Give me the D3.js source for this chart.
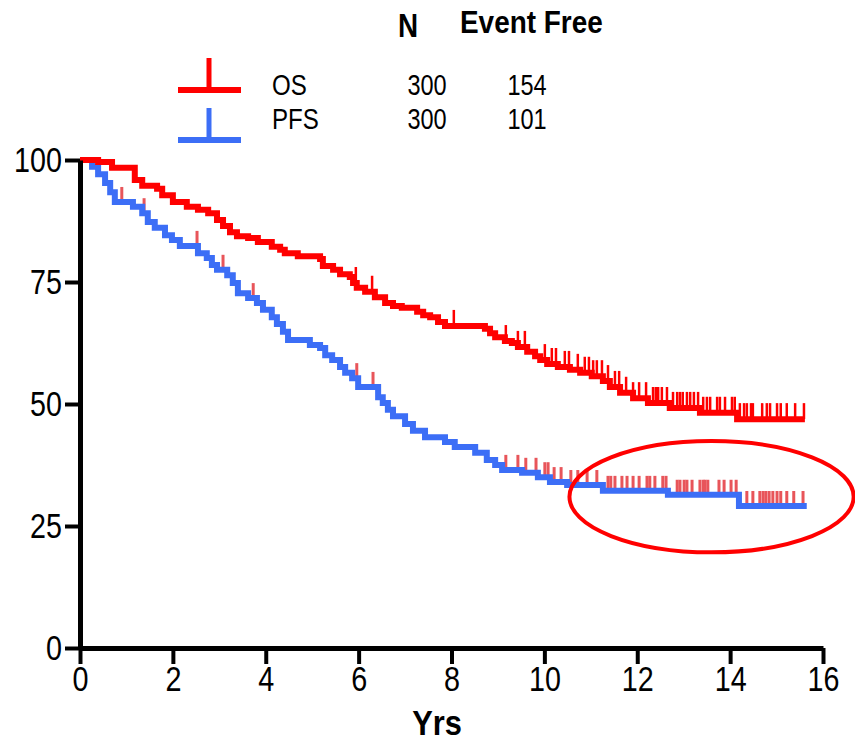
<!DOCTYPE html>
<html>
<head>
<meta charset="utf-8">
<script src="https://cdn.jsdelivr.net/npm/d3@7"></script>
<style>
  html, body { margin: 0; padding: 0; background: #fff; }
  svg { display: block; }
  text { font-family: "Liberation Sans", Arial, sans-serif; }
</style>
</head>
<body>
<svg id="chart" width="855" height="742"></svg>
<script>
// ---------- data ----------
const xTicks = [0, 2, 4, 6, 8, 10, 12, 14, 16];
const yTicks = [0, 25, 50, 75, 100];
const xLabel = "Yrs";

const legendHeader = ["N", "Event Free"];
const seriesNames = ["OS", "PFS"];
const seriesN = [300, 300];
const seriesEventFree = [154, 101];

// OS step function (time in years, survival %)
const osTimes = [0, 0.39, 0.69, 1.18, 1.34, 1.66, 1.77, 2.0, 2.30, 2.54, 2.76, 2.95, 3.08, 3.23, 3.38, 3.62, 3.83, 4.13, 4.31, 4.41, 4.69, 5.17, 5.23, 5.45, 5.60, 5.81, 5.88, 5.96, 6.14, 6.35, 6.57, 6.74, 6.93, 7.26, 7.39, 7.54, 7.71, 7.86, 8.72, 8.83, 8.94, 9.15, 9.30, 9.43, 9.63, 9.80, 9.91, 10.06, 10.29, 10.55, 10.77, 11.02, 11.26, 11.41, 11.63, 11.91, 12.23, 12.70, 13.35, 14.15, 15.61];
const osSurv  = [100, 99.6, 98.4, 95.9, 94.7, 94.1, 92.8, 91.4, 90.4, 89.8, 89.1, 87.7, 86.5, 85.2, 84.4, 84.0, 83.2, 82.2, 81.6, 80.9, 80.3, 79.7, 78.3, 77.5, 76.6, 76.0, 74.8, 73.8, 73.0, 71.9, 70.7, 70.1, 69.7, 68.9, 68.2, 67.8, 66.8, 66.0, 65.4, 64.5, 63.7, 62.9, 62.5, 61.7, 60.7, 59.8, 59.0, 58.2, 57.6, 57.0, 56.4, 55.7, 54.7, 53.5, 52.3, 51.2, 50.2, 49.2, 48.2, 46.9, 46.9];
const osCensor = [5.94, 6.29, 8.05, 9.17, 9.43, 9.58, 10.01, 10.16, 10.25, 10.44, 10.53, 10.72, 10.87, 10.96, 11.05, 11.13, 11.24, 11.37, 11.52, 11.61, 11.76, 11.91, 12.04, 12.19, 12.34, 12.40, 12.45, 12.53, 12.64, 12.77, 12.86, 12.92, 12.98, 13.07, 13.14, 13.22, 13.31, 13.42, 13.50, 13.57, 13.72, 13.78, 13.89, 14.04, 14.10, 14.21, 14.30, 14.36, 14.45, 14.49, 14.69, 14.79, 14.86, 15.01, 15.09, 15.22, 15.40, 15.59];

// PFS step function
const pfsTimes = [0, 0.26, 0.39, 0.54, 0.65, 0.75, 1.14, 1.34, 1.46, 1.61, 1.83, 1.98, 2.15, 2.54, 2.73, 2.84, 2.95, 3.17, 3.29, 3.40, 3.62, 3.81, 3.94, 4.13, 4.24, 4.37, 4.48, 4.95, 5.17, 5.28, 5.43, 5.60, 5.71, 5.86, 5.99, 6.42, 6.52, 6.63, 6.74, 7.00, 7.17, 7.43, 7.86, 8.07, 8.51, 8.76, 8.94, 9.09, 9.52, 9.86, 10.12, 10.49, 11.26, 12.66, 14.19, 15.65];
const pfsSurv  = [100, 98.6, 97.1, 95.3, 93.4, 91.4, 90.4, 89.1, 87.3, 86.1, 84.6, 83.6, 82.4, 80.9, 79.9, 78.5, 77.5, 76.4, 74.8, 72.7, 71.7, 70.7, 69.3, 67.8, 66.4, 64.8, 63.1, 62.1, 61.5, 60.0, 59.0, 57.6, 56.4, 55.3, 53.5, 51.4, 50.2, 48.8, 47.5, 45.9, 44.5, 43.2, 42.2, 41.2, 40.0, 38.5, 37.5, 36.5, 35.9, 35.0, 34.0, 33.4, 32.2, 31.4, 29.1, 29.1];
const pfsCensor = [0.90, 1.38, 2.52, 3.08, 3.73, 5.96, 6.31, 9.17, 9.43, 9.60, 9.82, 10.01, 10.08, 10.21, 10.36, 10.57, 10.72, 10.92, 11.13, 11.37, 11.43, 11.52, 11.67, 11.78, 11.91, 12.04, 12.21, 12.27, 12.38, 12.55, 12.62, 12.86, 12.92, 13.01, 13.07, 13.18, 13.35, 13.42, 13.46, 13.52, 13.76, 13.87, 14.02, 14.13, 14.36, 14.49, 14.64, 14.71, 14.77, 14.84, 14.92, 15.01, 15.09, 15.22, 15.37, 15.57];

// highlight ellipse (data coordinates: centre time, centre %, half-width years, half-height %)
const highlight = { t: 13.6, s: 31.0, rt: 3.06, rs: 11.4 };

// ---------- drawing ----------
const svg = d3.select("#chart");
const x = d3.scaleLinear().domain([0, 16]).range([80, 823]);
const y = d3.scaleLinear().domain([0, 100]).range([648, 160]);

const RED = "#ff0000";
const BLUE = "#3c6ef6";
const PINK = "#e8555a";

// horizontally condense text to mimic the narrow typeface
function squeeze(sel, f) {
  sel.each(function () {
    const w = this.getComputedTextLength();
    this.setAttribute("textLength", (w * f).toFixed(1));
    this.setAttribute("lengthAdjust", "spacingAndGlyphs");
  });
}

function stepAt(times, surv, t) {
  let v = surv[0];
  for (let i = 0; i < times.length; i++) { if (times[i] <= t) v = surv[i]; else break; }
  return v;
}

const line = d3.line().x(d => x(d[0])).y(d => y(d[1])).curve(d3.curveStepAfter);

const pfsData = pfsTimes.map((t, i) => [t, pfsSurv[i]]);
const osData = osTimes.map((t, i) => [t, osSurv[i]]);

svg.append("g").selectAll("line").data(pfsCensor).join("line")
  .attr("x1", d => x(d)).attr("x2", d => x(d))
  .attr("y1", d => y(stepAt(pfsTimes, pfsSurv, d)))
  .attr("y2", d => y(stepAt(pfsTimes, pfsSurv, d)) - 15)
  .attr("stroke", PINK).attr("stroke-width", 3);

svg.append("path").datum(pfsData).attr("d", line)
  .attr("fill", "none").attr("stroke", BLUE).attr("stroke-width", 6);

svg.append("g").selectAll("line").data(osCensor).join("line")
  .attr("x1", d => x(d)).attr("x2", d => x(d))
  .attr("y1", d => y(stepAt(osTimes, osSurv, d)))
  .attr("y2", d => y(stepAt(osTimes, osSurv, d)) - 16)
  .attr("stroke", RED).attr("stroke-width", 2.5);

svg.append("path").datum(osData).attr("d", line)
  .attr("fill", "none").attr("stroke", RED).attr("stroke-width", 6);

// ellipse
svg.append("ellipse")
  .attr("cx", x(highlight.t)).attr("cy", y(highlight.s))
  .attr("rx", x(highlight.rt) - x(0)).attr("ry", y(0) - y(highlight.rs))
  .attr("fill", "none").attr("stroke", RED).attr("stroke-width", 4);

// axes
const yAxis = d3.axisLeft(y).tickValues(yTicks).tickSize(15).tickSizeOuter(0).tickPadding(3);
const xAxis = d3.axisBottom(x).tickValues(xTicks).tickSize(16).tickSizeOuter(0).tickPadding(2);

const gy = svg.append("g").attr("transform", "translate(80,0)").call(yAxis);
const gx = svg.append("g").attr("transform", "translate(0,648)").call(xAxis);

[gx, gy].forEach(g => {
  g.select(".domain").attr("stroke", "#000").attr("stroke-width", 5);
  g.selectAll(".tick line").attr("stroke", "#000").attr("stroke-width", 4);
  g.selectAll(".tick text")
    .attr("font-size", 35).attr("fill", "#000")
    .attr("font-family", '"Liberation Sans", Arial, sans-serif');
  squeeze(g.selectAll(".tick text"), 0.82);
});

svg.append("text").attr("x", 437).attr("y", 735).attr("text-anchor", "middle")
  .attr("font-size", 35).attr("font-weight", "bold")
  .text(xLabel).call(squeeze, 0.88);

// legend
svg.append("text").attr("x", 408).attr("y", 37).attr("text-anchor", "middle")
  .attr("font-size", 34).attr("font-weight", "bold").text(legendHeader[0]).call(squeeze, 0.82);
svg.append("text").attr("x", 460).attr("y", 33)
  .attr("font-size", 31).attr("font-weight", "bold").text(legendHeader[1]).call(squeeze, 0.9);

const rowY = [90, 140];
const rowBase = [95, 129];
const cols = [RED, BLUE];
seriesNames.forEach((nm, i) => {
  const g = svg.append("g");
  g.append("line").attr("x1", 178).attr("x2", 241).attr("y1", rowY[i]).attr("y2", rowY[i])
    .attr("stroke", cols[i]).attr("stroke-width", 6);
  g.append("line").attr("x1", 209).attr("x2", 209).attr("y1", rowY[i]).attr("y2", rowY[i] - 32)
    .attr("stroke", cols[i]).attr("stroke-width", 5);
  g.append("text").attr("x", 272).attr("y", rowBase[i]).attr("font-size", 29).text(nm).call(squeeze, 0.83);
  g.append("text").attr("x", 427).attr("y", rowBase[i]).attr("text-anchor", "middle").attr("font-size", 29).text(seriesN[i]).call(squeeze, 0.81);
  g.append("text").attr("x", 527).attr("y", rowBase[i]).attr("text-anchor", "middle").attr("font-size", 29).text(seriesEventFree[i]).call(squeeze, 0.81);
});
</script>
</body>
</html>
